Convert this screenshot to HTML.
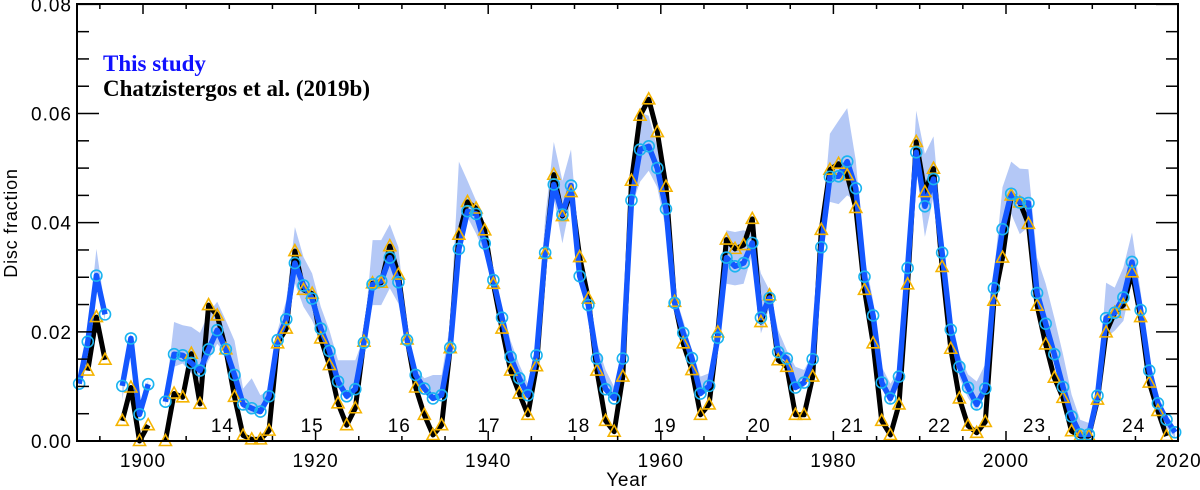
<!DOCTYPE html>
<html><head><meta charset="utf-8"><style>
html,body{margin:0;padding:0;background:#fff;}
svg{display:block;font-family:"Liberation Sans",sans-serif;}
</style></head><body>
<svg id="chart" width="1200" height="490" viewBox="0 0 1200 490" xmlns="http://www.w3.org/2000/svg">
<g id="band"></g>
<g id="lines"></g>
<g id="marks"></g>
<g id="axes"></g>
<text x="103" y="71" font-family="Liberation Serif,serif" font-weight="bold" font-size="23" fill="#1010ff">This study</text>
<text x="103" y="96" font-family="Liberation Serif,serif" font-weight="bold" font-size="23" fill="#000">Chatzistergos et al. (2019b)</text>
<text x="17" y="223" font-size="18" letter-spacing="0.8" text-anchor="middle" transform="rotate(-90 17 223)">Disc fraction</text>
<text x="627" y="486" font-size="19" letter-spacing="0.8" text-anchor="middle">Year</text>
</svg>
<script>
const years = [];
for (let y = 1893; y <= 2020; y++) years.push(y);
const thisStudy = [0.0105,0.0182,0.0303,0.0232,null,0.0101,0.0188,0.0049,0.0104,null,0.0072,0.0159,0.0157,0.0143,0.0129,0.0168,0.0203,0.0168,0.0121,0.0067,0.006,0.0054,0.0082,0.0185,0.0223,0.0326,0.0285,0.0261,0.0206,0.0165,0.0109,0.0082,0.0095,0.018,0.0287,0.0293,0.0336,0.0291,0.0185,0.0121,0.0096,0.0078,0.0084,0.0171,0.0352,0.0421,0.0416,0.0362,0.0295,0.0226,0.0154,0.0115,0.0084,0.0157,0.0345,0.047,0.0415,0.0468,0.0302,0.0249,0.0151,0.0095,0.0078,0.0151,0.0441,0.0534,0.054,0.05,0.0425,0.0253,0.0198,0.0152,0.0087,0.0101,0.0189,0.0336,0.032,0.0326,0.0363,0.0226,0.0262,0.0163,0.0151,0.0098,0.0107,0.015,0.0355,0.0484,0.0485,0.0512,0.0463,0.0301,0.023,0.0107,0.0078,0.0118,0.0317,0.0529,0.043,0.048,0.0345,0.0204,0.0136,0.0098,0.0067,0.0096,0.028,0.0388,0.0453,0.0437,0.0436,0.0271,0.0215,0.0159,0.0099,0.0045,0.0012,0.0012,0.0083,0.0225,0.0235,0.0263,0.0328,0.024,0.0129,0.0069,0.0039,0.0016];
const chatz = [null,0.0129,0.0227,0.0149,null,0.0037,0.0098,0.0,0.0029,null,0.0,0.0087,0.008,0.016,0.0068,0.0249,0.023,0.0168,0.0081,0.001,0.0003,0.0003,0.0019,0.0179,0.0206,0.0348,0.0277,0.027,0.0188,0.0139,0.0069,0.0029,0.006,0.0182,0.0289,0.029,0.0357,0.0305,0.0186,0.0098,0.0048,0.0011,0.0029,0.017,0.0378,0.0438,0.0426,0.0386,0.0288,0.0206,0.0129,0.0087,0.0048,0.0137,0.0343,0.0488,0.0412,0.0456,0.0337,0.0261,0.0129,0.0037,0.0017,0.0118,0.0477,0.0596,0.0626,0.0566,0.0466,0.0255,0.0179,0.013,0.0048,0.0067,0.0199,0.0369,0.0352,0.0359,0.0407,0.0218,0.0267,0.0148,0.0136,0.0048,0.0048,0.0118,0.0387,0.0497,0.0508,0.0487,0.0427,0.0277,0.0179,0.0037,0.0011,0.0067,0.0287,0.0548,0.0456,0.0499,0.0319,0.0169,0.0078,0.0028,0.0015,0.0035,0.0257,0.0336,0.045,0.0437,0.0398,0.0248,0.0177,0.0116,0.0079,0.0018,0.0009,0.0009,0.0076,0.0199,0.0235,0.0249,0.0309,0.0227,0.0107,0.0055,0.0009,null];
const bandHi = [0.0118,0.0197,0.0352,0.0245,null,0.0124,0.0197,0.0057,0.0112,null,0.0082,0.0218,0.0212,0.0209,0.0198,0.0234,0.0255,0.0221,0.0184,0.0096,0.0115,0.0084,0.0093,0.0203,0.0258,0.0392,0.0337,0.0307,0.0246,0.0203,0.0148,0.0148,0.0148,0.0191,0.0368,0.0368,0.0397,0.0355,0.0196,0.0133,0.0115,0.0121,0.0121,0.0215,0.0512,0.0477,0.044,0.0379,0.0302,0.0246,0.0184,0.014,0.0105,0.0184,0.0411,0.0548,0.0477,0.0534,0.0343,0.0276,0.0179,0.013,0.0099,0.017,0.0465,0.0602,0.0596,0.0538,0.0465,0.0270,0.0221,0.0166,0.0118,0.0124,0.0203,0.0386,0.0383,0.0386,0.0380,0.0307,0.0276,0.0203,0.0166,0.0136,0.0130,0.0160,0.0380,0.0563,0.0587,0.0610,0.0514,0.0337,0.0258,0.0136,0.0105,0.0130,0.0331,0.0605,0.0526,0.0558,0.0379,0.0232,0.0158,0.0122,0.0109,0.0141,0.0306,0.0465,0.0512,0.0499,0.0498,0.0336,0.0288,0.0226,0.0159,0.0085,0.0039,0.0033,0.0091,0.0290,0.0281,0.0318,0.0382,0.0275,0.0141,0.0085,0.0048,0.0023];
const bandLo = [0.0099,0.0172,0.0282,0.0221,null,0.0075,0.0179,0.0038,0.0093,null,0.0063,0.0136,0.0142,0.0124,0.0112,0.0148,0.0178,0.0159,0.0112,0.0057,0.0051,0.0048,0.0075,0.0172,0.0203,0.0289,0.0246,0.0221,0.0184,0.0148,0.0099,0.0075,0.0087,0.0172,0.0249,0.0249,0.028,0.0252,0.0172,0.0112,0.0090,0.0075,0.0081,0.0160,0.0337,0.0410,0.0380,0.0343,0.0276,0.0203,0.0136,0.0105,0.0075,0.0142,0.0325,0.0446,0.0362,0.0441,0.0288,0.0233,0.0142,0.0087,0.0075,0.0142,0.0429,0.0475,0.0495,0.0465,0.0386,0.0238,0.0184,0.0136,0.0081,0.0093,0.0179,0.0288,0.0285,0.0288,0.0343,0.0197,0.0245,0.0148,0.0142,0.0093,0.0099,0.0136,0.0337,0.0438,0.0434,0.0450,0.0440,0.0282,0.0209,0.0096,0.0066,0.0108,0.0300,0.0502,0.0374,0.0448,0.0324,0.0183,0.0116,0.0079,0.0055,0.0085,0.0268,0.0379,0.0416,0.0379,0.0392,0.0257,0.0202,0.0147,0.0085,0.0036,0.0002,0.0002,0.0073,0.0189,0.0202,0.0220,0.0293,0.0221,0.0116,0.0055,0.0024,0.0006];
const xTicks = [1900,1920,1940,1960,1980,2000,2020];
const yTicks = [0.00,0.02,0.04,0.06,0.08];
const yTickLabels = ["0.00","0.02","0.04","0.06","0.08"];
const cycles = ["14","15","16","17","18","19","20","21","22","23","24"];
const cycleYears = [1909.2,1919.6,1929.7,1940.1,1950.5,1960.5,1971.4,1982.2,1992.3,2003.3,2014.8];

const L=77,R=1178,T=4,B=441;
const X0=143, PX=8.63;
function xs(y){return X0+(y-1900)*PX;}
function xp(y){return X0+(y-1900.4)*PX;}
function ys(v){return B-v*5458;}
const NS="http://www.w3.org/2000/svg";
function mk(tag,parent,attrs){const e=document.createElementNS(NS,tag);for(const k in attrs)e.setAttribute(k,attrs[k]);parent.appendChild(e);return e;}

const band=document.getElementById('band');
let segs=[],cur=[];
years.forEach((y,i)=>{if(bandHi[i]==null){if(cur.length)segs.push(cur);cur=[];}else cur.push(i);});
if(cur.length)segs.push(cur);
segs.forEach(s=>{
  let d=s.map((i,k)=>(k?'L':'M')+xp(years[i]).toFixed(1)+','+ys(bandHi[i]).toFixed(1)).join('');
  d+=s.slice().reverse().map(i=>'L'+xp(years[i]).toFixed(1)+','+ys(bandLo[i]).toFixed(1)).join('')+'Z';
  const p=mk('path',band,{d:d,fill:'#b4c8f6',stroke:'none'});
  
  
});

function linePath(vals){
  let d='',pen=false;
  years.forEach((y,i)=>{const v=vals[i];if(v==null){pen=false;return;}d+=(pen?'L':'M')+xp(y).toFixed(1)+','+ys(v).toFixed(1);pen=true;});
  return d;
}
const lines=document.getElementById('lines');
const bl=mk('path',lines,{d:linePath(chatz),fill:'none',stroke:'#000','stroke-width':5,'stroke-linejoin':'round'});


const ul=mk('path',lines,{d:linePath(thisStudy),fill:'none',stroke:'#1457ff','stroke-width':5.5,'stroke-linejoin':'round'});



const marks=document.getElementById('marks');
years.forEach((y,i)=>{
  const v=chatz[i]; if(v==null) return;
  const x=xp(y),yy=ys(v);
  const t=mk('path',marks,{d:`M${x-6},${yy+4.5}L${x+6},${yy+4.5}L${x},${yy-6.5}Z`,fill:'none',stroke:'#f5b400','stroke-width':1.6});
  
  
});
years.forEach((y,i)=>{
  const v=thisStudy[i]; if(v==null) return;
  const c=mk('circle',marks,{cx:xp(y),cy:ys(v),r:5.5,fill:'none',stroke:'#1ab4f0','stroke-width':1.6});
  
  
});

const ax=document.getElementById('axes');
const fr=mk('rect',ax,{x:L,y:T,width:R-L,height:B-T,fill:'none',stroke:'#000','stroke-width':2});


for(let yr=1895;yr<=2020;yr+=5){
  const x=xs(yr); if(x<L||x>R) continue;
  const len=(yr%20===0)?10:5;
  mk('line',ax,{x1:x,x2:x,y1:B,y2:B-len,stroke:'#000','stroke-width':1.5});
  mk('line',ax,{x1:x,x2:x,y1:T,y2:T+len,stroke:'#000','stroke-width':1.5});
}
xTicks.forEach(yr=>{
  const t=mk('text',ax,{x:xs(yr),y:467,'font-size':19,'letter-spacing':1,'text-anchor':'middle'});
  t.textContent=yr;
  
  
});
for(let k=0;k<=16;k++){
  const v=k*0.005,y=ys(v),len=(k%4===0)?22:12;
  mk('line',ax,{x1:L,x2:L+len,y1:y,y2:y,stroke:'#000','stroke-width':1.5});
  mk('line',ax,{x1:R,x2:R-len,y1:y,y2:y,stroke:'#000','stroke-width':1.5});
}
yTicks.forEach((v,i)=>{
  const t=mk('text',ax,{x:72,y:ys(v)+7,'font-size':19,'letter-spacing':1,'text-anchor':'end'});
  t.textContent=yTickLabels[i];
  
  
});
cycles.forEach((c,i)=>{
  const t=mk('text',ax,{x:xs(cycleYears[i]),y:432,'font-size':19,'letter-spacing':1,'text-anchor':'middle'});
  t.textContent=c;
  
  
});
</script>
</body></html>
